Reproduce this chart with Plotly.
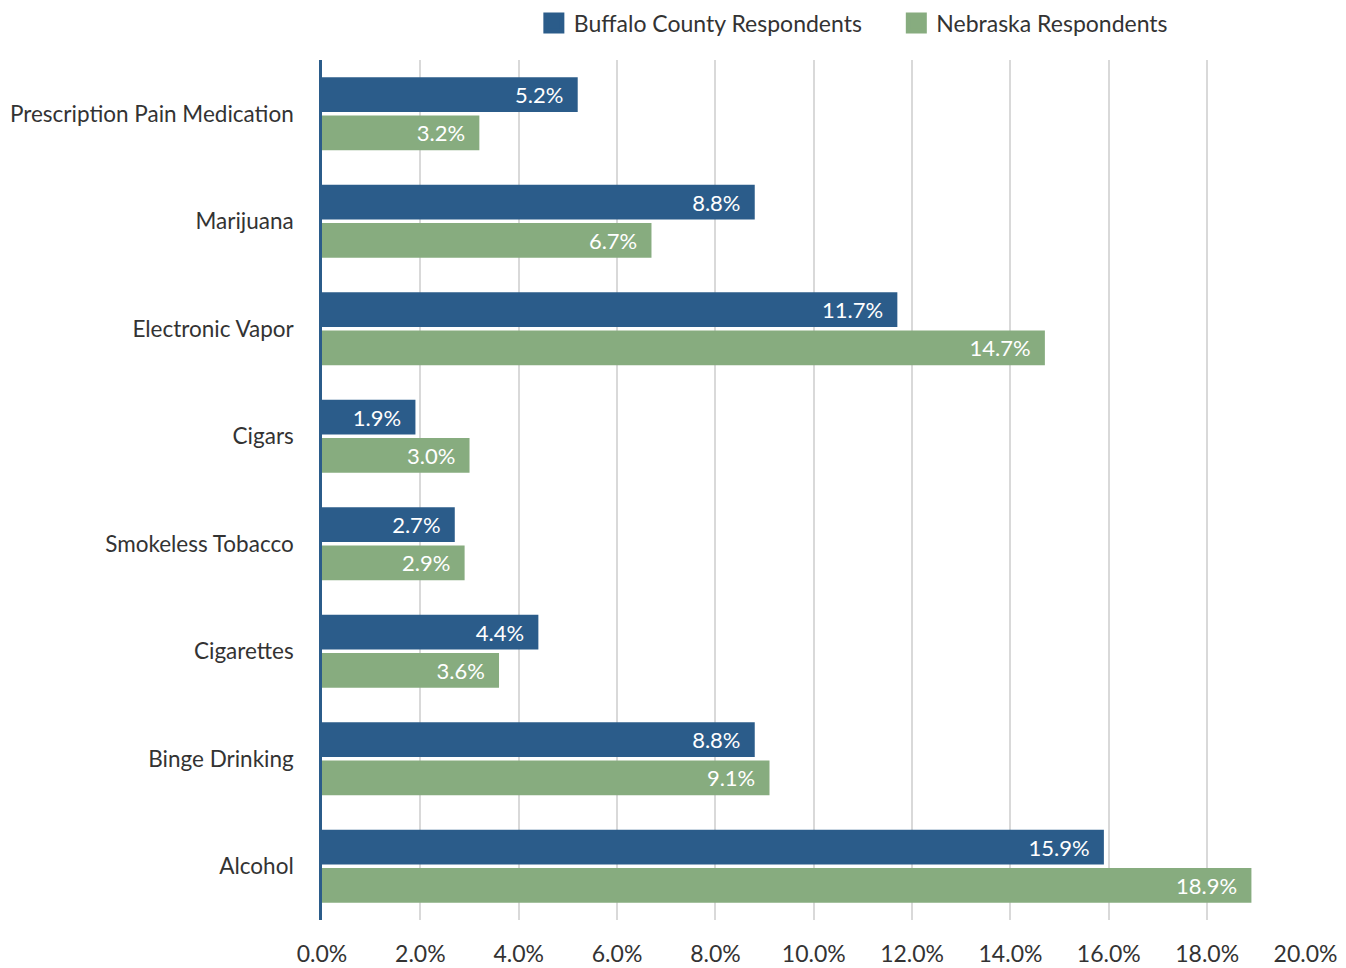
import plotly.graph_objects as go

categories = [
    "Prescription Pain Medication",
    "Marijuana",
    "Electronic Vapor",
    "Cigars",
    "Smokeless Tobacco",
    "Cigarettes",
    "Binge Drinking",
    "Alcohol",
]
buffalo = [5.2, 8.8, 11.7, 1.9, 2.7, 4.4, 8.8, 15.9]
nebraska = [3.2, 6.7, 14.7, 3.0, 2.9, 3.6, 9.1, 18.9]
tick_vals = [0, 2, 4, 6, 8, 10, 12, 14, 16, 18, 20]
tick_text = [f"{v:.1f}%" for v in tick_vals]

BLUE = "#2B5C8A"
GREEN = "#87AC7F"
FONT = "Lato, 'Open Sans', sans-serif"

series = [
    ("Buffalo County Respondents", buffalo, BLUE),
    ("Nebraska Respondents", nebraska, GREEN),
]

fig = go.Figure()
for name, vals, color in series:
    fig.add_trace(go.Bar(
        y=categories, x=vals, name=name, orientation="h",
        marker=dict(color=color, line=dict(width=0)),
        text=[f"{v:.1f}%\u00a0\u00a0" for v in vals],
        textposition="inside", insidetextanchor="end",
        textfont=dict(color="white", size=22, family=FONT),
        constraintext="none", showlegend=False,
        hoverinfo="x+name",
    ))

# legend-only entries so the swatches can be bigger
for i, (name, vals, color) in enumerate(series):
    pad = "\u00a0" * 5 if i == 0 else ""
    fig.add_trace(go.Scatter(
        x=[None], y=[None], mode="markers", name=name + pad,
        marker=dict(symbol="square", size=16, color=color,
                    line=dict(color=color, width=5)),
    ))

# page body adds an 8px margin, figure runs to the bottom/right edge of the window
fig.update_layout(
    width=1338, height=960,
    template="plotly_white",
    barmode="group", bargap=0.29, bargroupgap=0.09,
    margin=dict(l=314, r=40, t=52, b=48, autoexpand=False),
    font=dict(family=FONT, size=22, color="#333333"),
    legend=dict(orientation="h", x=0.54, xanchor="center", y=1.043, yanchor="middle",
                font=dict(size=23, color="#333333"), itemwidth=30),
    paper_bgcolor="white", plot_bgcolor="white",
)
fig.update_xaxes(range=[0, 20.01], tickvals=tick_vals, ticktext=tick_text,
                 showgrid=True, gridcolor="#D9D9D9", gridwidth=1.5,
                 zeroline=False, showline=False, ticklabelstandoff=18,
                 automargin=False, tickfont=dict(size=23, color="#333333"))
fig.update_yaxes(autorange="reversed", showline=True, linecolor=BLUE, linewidth=2.5,
                 showgrid=False, ticklabelstandoff=21, automargin=False,
                 tickfont=dict(size=22.5, color="#333333"))

fig.write_html("out.html")
